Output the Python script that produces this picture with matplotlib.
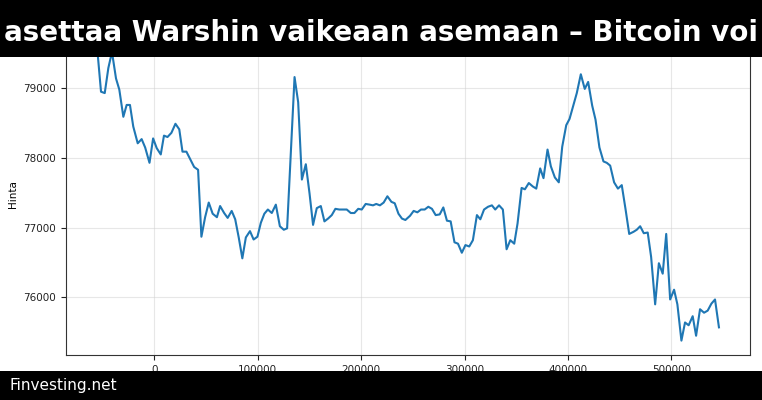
import matplotlib
matplotlib.use('agg')
import matplotlib.pyplot as plt  # noqa
from matplotlib.patches import Rectangle  # noqa

TITLE = 'asettaa Warshin vaikeaan asemaan – Bitcoin voi'
FOOTER = 'Finvesting.net'
Y_LABEL = 'Hinta'

# values, one per vertex
time_s = [
    -55500, -51700, -48100, -44600, -41100, -37200, -34000, -30100, -26900,
    -23700, -20500, -16200, -12400, -9000, -4800, -1300, 2200, 6100, 9200,
    12600, 16400, 20300, 24000, 27100, 30900, 34300, 38400, 42200, 45400,
    49000, 52500, 56300, 60400, 63500, 67400, 70800, 74700, 78100, 81500,
    85000, 88400, 92400, 95900, 99600, 102900, 106300, 109700, 113500,
    117400, 121300, 125100, 128300, 135500, 139000, 142600, 146400, 150000,
    153400, 157000, 160900, 164400, 167900, 171500, 175000, 178800, 182400,
    186000, 189900, 193400, 197100, 200500, 204300, 208200, 211400, 214500,
    218100, 221700, 225300, 229200, 232400, 236000, 239400, 242700, 247200,
    250700, 254300, 257800, 261400, 264900, 268400, 272000, 275900, 279400,
    282900, 286500, 290200, 293600, 297300, 300800, 304500, 308000, 311900,
    315200, 318800, 322700, 326400, 329600, 333300, 337000, 340600, 344200,
    348000, 351200, 355100, 358300, 362100, 366000, 369300, 373100, 376300,
    380200, 383400, 387300, 391100, 394400, 398300, 401500, 405300, 408500,
    412400, 416200, 419500, 423400, 426600, 430400, 434300, 437500, 440800,
    444600, 448300, 452000, 455600, 459200, 463300, 466500, 469800, 473300,
    477100, 480400, 484300, 487900, 491600, 495000, 498800, 502600, 505800,
    509700, 513200, 516700, 520600, 523900, 527700, 531600, 535100, 538700,
    542200, 546000,
]

hinta = [
    79590, 78950, 78930, 79290, 79520, 79140, 78980, 78590, 78760,
    78760, 78450, 78210, 78270, 78150, 77930, 78280, 78140, 78050, 78320,
    78300, 78360, 78490, 78410, 78090, 78090, 77990, 77870, 77830, 76870,
    77150, 77360, 77200, 77150, 77310, 77210, 77140, 77240, 77120, 76860,
    76560, 76860, 76950, 76830, 76870, 77070, 77200, 77260, 77210,
    77330, 77020, 76970, 76990, 79160, 78800, 77690, 77910, 77490,
    77040, 77280, 77310, 77090, 77130, 77180, 77270, 77260, 77260,
    77260, 77210, 77210, 77270, 77260, 77340, 77330, 77320, 77340,
    77320, 77360, 77450, 77370, 77350, 77200, 77130, 77110, 77170,
    77240, 77220, 77260, 77260, 77300, 77270, 77180, 77190, 77290,
    77100, 77090, 76790, 76770, 76640, 76750, 76730, 76820, 77180,
    77120, 77260, 77300, 77320, 77260, 77320, 77260, 76690, 76820,
    76770, 77060, 77570, 77550, 77640, 77590, 77560, 77850, 77710,
    78120, 77880, 77720, 77650, 78160, 78470, 78560, 78760, 78930,
    79200, 78990, 79090, 78750, 78550, 78150, 77950, 77930, 77890,
    77650, 77560, 77610, 77270, 76910, 76940, 76970, 77020, 76920,
    76930, 76580, 75900, 76490, 76340, 76910, 75970, 76110, 75900,
    75380, 75640, 75600, 75730, 75450, 75830, 75780, 75810, 75910,
    75970, 75570,
]

fig = plt.figure(figsize=(7.62, 4.0), dpi=100)
ax = fig.add_axes([0.0866, 0.1118, 0.8977, 0.8072])

ax.plot(time_s, hinta, color='#1f77b4', linewidth=1.5)
ax.set_ylabel(Y_LABEL, fontsize=7.5)
ax.tick_params(labelsize=7.5, colors='#222222')
ax.grid(True, color='#d0d0d0', alpha=0.5, linewidth=0.8)
for s in ax.spines.values():
    s.set_color('#333333')

ax.set_yticks([76000, 77000, 78000, 79000])
ax.set_xticks([0, 100000, 200000, 300000, 400000, 500000])

# black banners on top and bottom
fig.add_artist(Rectangle((0, 0.8575), 1, 0.1425, transform=fig.transFigure,
                         facecolor='black', edgecolor='none', zorder=10))
fig.add_artist(Rectangle((0, 0), 1, 0.0725, transform=fig.transFigure,
                         facecolor='black', edgecolor='none', zorder=10))
fig.text(0.5, 0.917, TITLE, color='white', fontsize=20, fontweight='bold',
         ha='center', va='center', zorder=11)
fig.text(0.013, 0.037, FOOTER, color='white', fontsize=11,
         ha='left', va='center', zorder=11)

fig.savefig('out.png', dpi=100)
